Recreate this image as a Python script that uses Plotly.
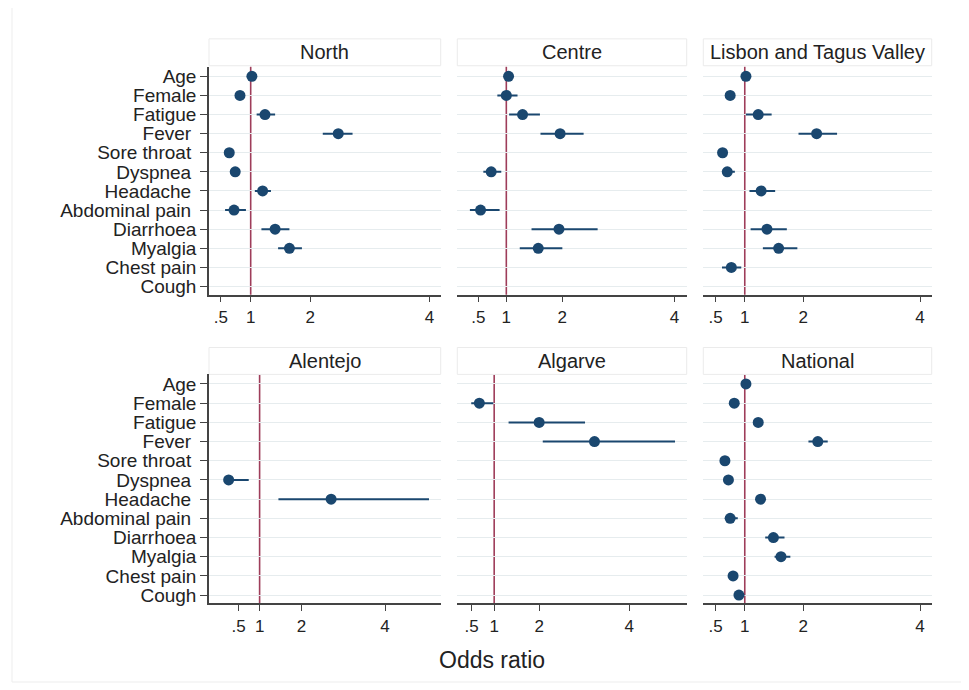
import plotly.graph_objects as go

# ---------------- data ----------------
categories = ["Age", "Female", "Fatigue", "Fever", "Sore throat", "Dyspnea",
              "Headache", "Abdominal pain", "Diarrhoea", "Myalgia", "Chest pain", "Cough"]
# labels that carry a trailing space in the original
trailing_space = ["Fever", "Sore throat", "Dyspnea", "Headache", "Abdominal pain"]

regions = ["North", "Centre", "Lisbon and Tagus Valley", "Alentejo", "Algarve", "National"]

or_north = [1.02, 0.82, 1.24, 2.47, 0.64, 0.74, 1.20, 0.72, 1.41, 1.65, None, None]
lo_north = [1.00, 0.78, 1.10, 2.21, 0.61, 0.70, 1.07, 0.57, 1.18, 1.46, None, None]
hi_north = [1.04, 0.87, 1.41, 2.71, 0.68, 0.79, 1.34, 0.92, 1.65, 1.86, None, None]

or_centre = [1.04, 1.00, 1.29, 1.96, None, 0.73, None, 0.54, 1.94, 1.57, None, None]
lo_centre = [1.01, 0.84, 1.05, 1.61, None, 0.59, None, 0.35, 1.45, 1.24, None, None]
hi_centre = [1.07, 1.20, 1.60, 2.38, None, 0.91, None, 0.88, 2.63, 2.00, None, None]

or_lisbon = [1.02, 0.75, 1.23, 2.23, 0.62, 0.70, 1.28, None, 1.38, 1.58, 0.77, None]
lo_lisbon = [1.00, 0.70, 1.02, 1.92, 0.58, 0.62, 1.08, None, 1.10, 1.31, 0.61, None]
hi_lisbon = [1.04, 0.81, 1.46, 2.58, 0.67, 0.83, 1.52, None, 1.72, 1.90, 0.94, None]

or_alentejo = [None, None, None, None, None, 0.26, 2.71, None, None, None, None, None]
lo_alentejo = [None, None, None, None, None, 0.20, 1.45, None, None, None, None, None]
hi_alentejo = [None, None, None, None, None, 0.74, 5.05, None, None, None, None, None]

or_algarve = [None, 0.67, 2.00, 3.23, None, None, None, None, None, None, None, None]
lo_algarve = [None, 0.49, 1.32, 2.08, None, None, None, None, None, None, None, None]
hi_algarve = [None, 0.98, 3.02, 5.02, None, None, None, None, None, None, None, None]

or_national = [1.02, 0.82, 1.23, 2.25, 0.66, 0.72, 1.27, 0.75, 1.49, 1.62, 0.80, 0.90]
lo_national = [1.01, 0.79, 1.18, 2.09, 0.63, 0.69, 1.22, 0.66, 1.35, 1.51, 0.76, 0.84]
hi_national = [1.03, 0.86, 1.29, 2.42, 0.69, 0.76, 1.33, 0.88, 1.68, 1.78, 0.85, 0.99]

x_ticks = [0.5, 1, 2, 4]
x_tick_labels = [".5", "1", "2", "4"]
x_title = "Odds ratio"

panel_data = [
    (or_north, lo_north, hi_north),
    (or_centre, lo_centre, hi_centre),
    (or_lisbon, lo_lisbon, hi_lisbon),
    (or_alentejo, lo_alentejo, hi_alentejo),
    (or_algarve, lo_algarve, hi_algarve),
    (or_national, lo_national, hi_national),
]

# ---------------- layout geometry (page pixels; page body has 8px margin) ----------------
OFF = 8
W, H = 969 - OFF, 690 - OFF


def px_x(v):
    return (v - OFF) / W


def px_y(v):
    return 1 - (v - OFF) / H


col_px = [(209, 440.7), (457.3, 686.7), (703.3, 931.7)]
row_plot_px = [(66, 295), (375, 605)]
row_title_px = [(38, 65), (348, 375)]
x_ranges = [(0.30, 4.19), (0.125, 4.22), (0.29, 4.20),
            (-0.21, 5.33), (0.18, 5.28), (0.29, 4.20)]

NAVY = "#1a476f"
MAROON = "#9e3d5a"
GRID = "#e6ecee"
AXIS = "#444444"
FONT = "Liberation Sans, Arial, sans-serif"

ytext = [c + ("\u00a0" if c in trailing_space else "") for c in categories]
yidx = list(range(len(categories)))

fig = go.Figure()
shapes = []
annotations = []
layout = {}

for i, name in enumerate(regions):
    r, c = divmod(i, 3)
    n = "" if i == 0 else str(i + 1)
    ors, los, his = panel_data[i]
    xs, ys, ep, em = [], [], [], []
    for k, v in enumerate(ors):
        if v is None:
            continue
        xs.append(v)
        ys.append(yidx[k])
        ep.append(his[k] - v)
        em.append(v - los[k])
    fig.add_trace(go.Scatter(
        x=xs, y=ys, mode="markers", xaxis="x" + n, yaxis="y" + n,
        marker=dict(color=NAVY, size=11),
        error_x=dict(type="data", symmetric=False, array=ep, arrayminus=em,
                     color=NAVY, thickness=2, width=0),
        showlegend=False, hoverinfo="x+y",
    ))
    x0, x1 = col_px[c]
    y0, y1 = row_plot_px[r]
    layout["xaxis" + n] = dict(
        domain=[px_x(x0), px_x(x1)], range=list(x_ranges[i]), anchor="y" + n,
        tickvals=x_ticks, ticktext=x_tick_labels, ticks="outside", ticklen=6,
        tickcolor=AXIS, tickwidth=1.2, showline=True, linecolor=AXIS, linewidth=1.5,
        showgrid=False, zeroline=False,
        tickfont=dict(family=FONT, size=17, color="#222222"),
    )
    layout["yaxis" + n] = dict(
        domain=[px_y(y1), px_y(y0)], range=[11.43, -0.5], anchor="x" + n,
        tickvals=yidx, ticktext=ytext,
        showticklabels=(c == 0), ticks="outside" if c == 0 else "",
        ticklen=7, tickcolor=AXIS, tickwidth=1.2,
        showline=(c == 0), linecolor=AXIS, linewidth=1.5,
        showgrid=True, gridcolor=GRID, gridwidth=1, zeroline=False,
        tickfont=dict(family=FONT, size=19, color="#222222"),
    )
    # reference line at OR = 1
    shapes.append(dict(type="line", xref="x" + n, yref="y" + n + " domain",
                       x0=1, x1=1, y0=0, y1=1, line=dict(color=MAROON, width=1.6),
                       layer="below"))
    # title band
    ty0, ty1 = row_title_px[r]
    shapes.append(dict(type="rect", xref="paper", yref="paper",
                       x0=px_x(x0), x1=px_x(x1), y0=px_y(ty1), y1=px_y(ty0),
                       line=dict(color="#ebebeb", width=1), fillcolor="white",
                       layer="below"))
    annotations.append(dict(text=name, xref="paper", yref="paper",
                            x=px_x((x0 + x1) / 2), y=px_y((ty0 + ty1) / 2),
                            xanchor="center", yanchor="middle", showarrow=False,
                            font=dict(family=FONT, size=20, color="#222222")))

# outer faint frame
shapes.append(dict(type="rect", xref="paper", yref="paper",
                   x0=px_x(12), x1=px_x(964), y0=px_y(684), y1=px_y(6),
                   line=dict(color="#ededed", width=1), fillcolor="rgba(0,0,0,0)",
                   layer="below"))

annotations.append(dict(text=x_title, xref="paper", yref="paper",
                        x=px_x(492), y=px_y(661.7), xanchor="center", yanchor="middle",
                        showarrow=False, font=dict(family=FONT, size=23, color="#222222")))

fig.update_layout(
    width=W, height=H, margin=dict(l=0, r=0, t=0, b=0),
    paper_bgcolor="white", plot_bgcolor="white",
    shapes=shapes, annotations=annotations, **layout,
)

fig.write_html("out.html")
